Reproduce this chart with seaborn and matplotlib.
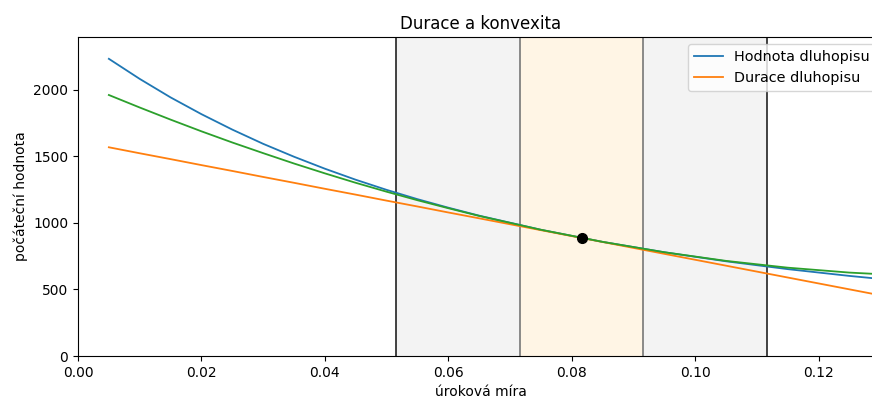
import matplotlib
matplotlib.use("Agg")
import matplotlib.pyplot as plt
import seaborn as sns
import pandas as pd

# interest rates (x) and read-off values
rates = [0.005, 0.01, 0.015, 0.02, 0.025, 0.03, 0.035, 0.04, 0.045, 0.05,
         0.055, 0.06, 0.065, 0.075, 0.085, 0.095, 0.105, 0.115, 0.125, 0.135]
bond_value = [2234, 2083, 1944, 1818, 1702, 1595, 1498, 1408, 1325, 1249,
              1179, 1115, 1055, 949, 858, 780, 712, 653, 602, 557]
duration_approx = [1569, 1524, 1480, 1435, 1391, 1346, 1302, 1257, 1213, 1168,
                   1124, 1079, 1035, 946, 857, 768, 679, 590, 501, 412]
convexity_approx = [1962, 1868, 1777, 1689, 1605, 1525, 1447, 1373, 1302, 1235,
                    1171, 1111, 1053, 949, 858, 780, 715, 664, 627, 603]
r0 = 0.0816
p0 = 887
bands = [0.0516, 0.0716, 0.0916, 0.1116]

df = pd.DataFrame({"r": rates, "v": bond_value, "d": duration_approx, "c": convexity_approx})

fig = plt.figure(figsize=(8.72, 3.99), dpi=100)
ax = fig.add_axes([78 / 872, 43 / 399, (884 - 78) / 872, (356 - 37) / 399])

ax.axvspan(bands[0], bands[1], color="gray", alpha=0.09, lw=0)
ax.axvspan(bands[2], bands[3], color="gray", alpha=0.09, lw=0)
ax.axvspan(bands[1], bands[2], color="orange", alpha=0.1, lw=0)
for b, c in zip(bands, ["#222222", "#777777", "#777777", "#222222"]):
    ax.axvline(b, color=c, lw=1.2)

sns.lineplot(data=df, x="r", y="v", ax=ax, color="#1f77b4", lw=1.3, label="Hodnota dluhopisu")
sns.lineplot(data=df, x="r", y="d", ax=ax, color="#ff7f0e", lw=1.3, label="Durace dluhopisu")
sns.lineplot(data=df, x="r", y="c", ax=ax, color="#2ca02c", lw=1.3)
ax.plot([r0], [p0], "o", color="black", ms=7)

ax.set_xlim(0, 0.1306)
ax.set_ylim(0, 2398)
ax.set_xticks([0.0, 0.02, 0.04, 0.06, 0.08, 0.10, 0.12])
ax.set_xticklabels(["0.00", "0.02", "0.04", "0.06", "0.08", "0.10", "0.12"])
ax.set_yticks([0, 500, 1000, 1500, 2000])
ax.set_xlabel("úroková míra")
ax.set_ylabel("počáteční hodnota")
ax.set_title("Durace a konvexita")
ax.legend(loc="upper right", bbox_to_anchor=(1 - 1 / 806, 1), fontsize=10.4)

fig.savefig("out.png", dpi=100)
